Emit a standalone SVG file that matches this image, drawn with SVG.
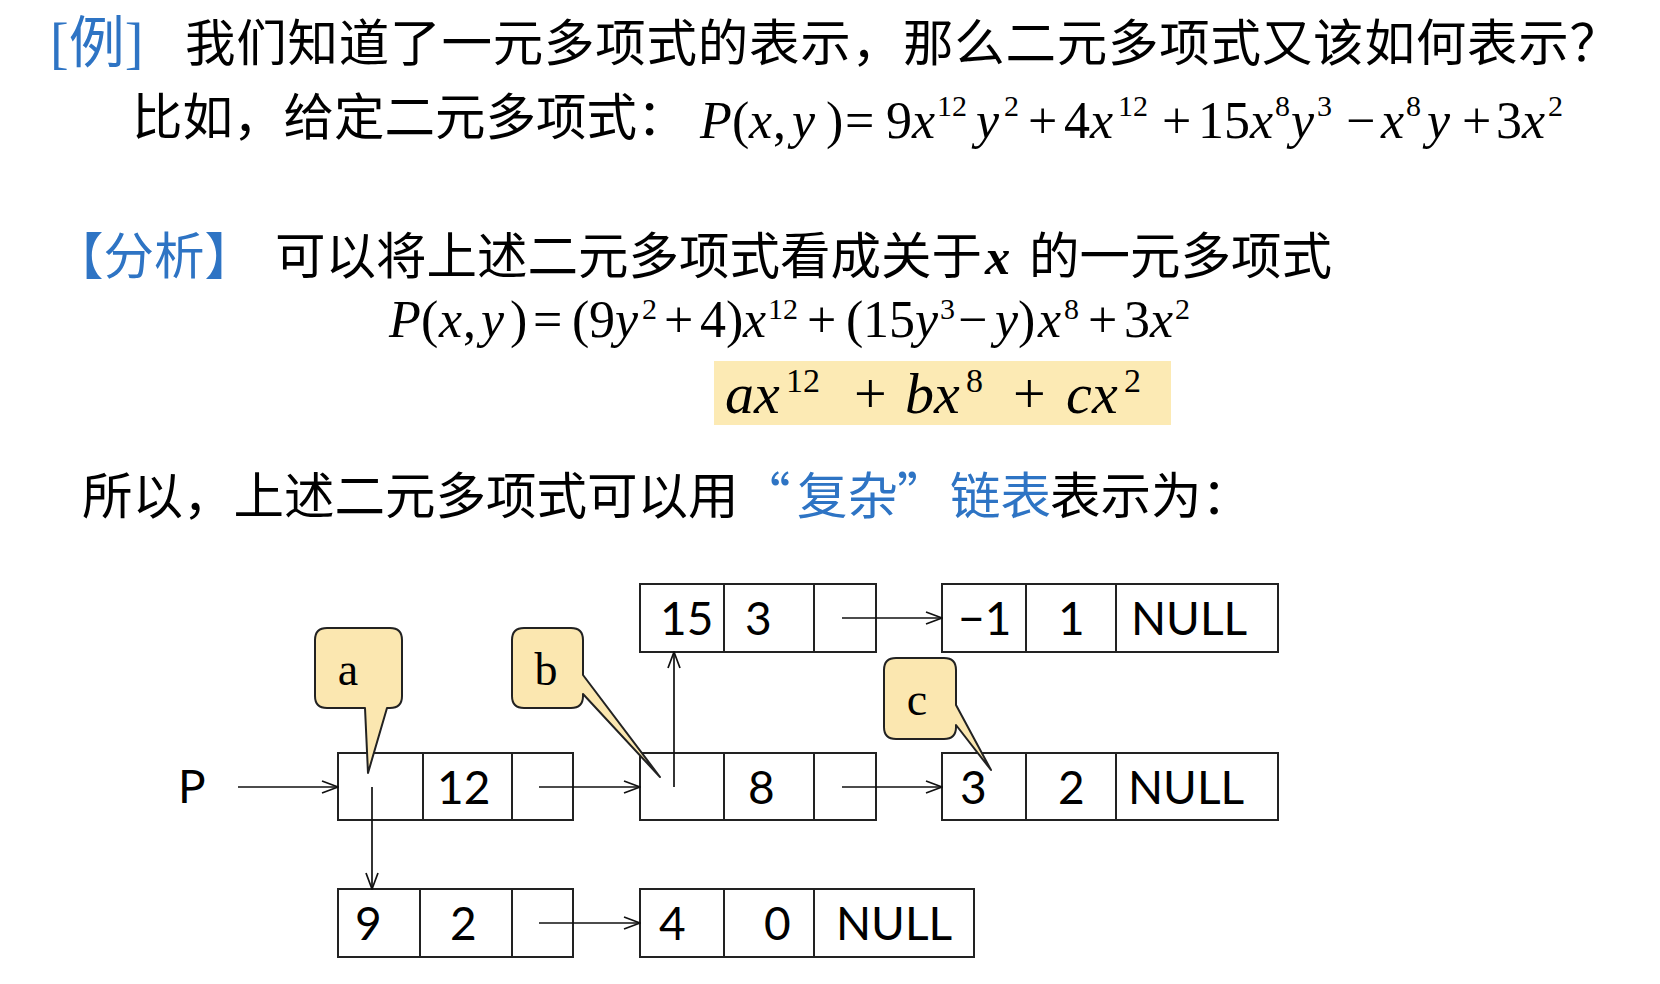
<svg xmlns="http://www.w3.org/2000/svg" width="1660" height="984" viewBox="0 0 1660 984">
<defs>
<style>
.cn{font-family:"Noto Sans CJK SC",sans-serif;font-size:50.5px;fill:#000}
.blue{fill:#2E74C4}
.m{font-family:"Liberation Serif",serif;font-style:italic;font-size:52px;fill:#000}
.up{font-style:normal}
.sup{font-size:30px;font-style:normal}
.hm{font-family:"Liberation Serif",serif;font-style:italic;font-size:58px;fill:#000}
.hsup{font-size:34px;font-style:normal}
.box{fill:#fff;stroke:#222;stroke-width:2}
.div{stroke:#222;stroke-width:2}
.num{font-family:Lato,"Liberation Sans",sans-serif;font-size:46px;fill:#000}
.lnk{stroke:#111;stroke-width:1.7;fill:none;marker-end:url(#ah)}
.call{fill:#FBE7B0;stroke:#222;stroke-width:2;stroke-linejoin:round}
.cl{font-family:"Liberation Serif",serif;font-size:46px;text-anchor:middle;fill:#000}
</style>
<marker id="ah" viewBox="0 0 18 14" refX="17" refY="7" markerWidth="18" markerHeight="14" markerUnits="userSpaceOnUse" orient="auto">
<path d="M1,1 L17,7 L1,13" fill="none" stroke="#111" stroke-width="1.7"/>
</marker>
</defs>
<rect width="1660" height="984" fill="#fff"/>

<g id="title">
<text x="50" y="62" font-family="'Liberation Serif','Noto Sans CJK SC',serif" font-size="56" fill="#2E74C4">[例]</text>
<text class="cn" x="185" y="61" textLength="1435" lengthAdjust="spacing">我们知道了一元多项式的表示，那么二元多项式又该如何表示？</text>
<text class="cn" x="132" y="135">比如，给定二元多项式：</text>
</g>

<g id="formula1">
<text class="m" y="138"><tspan x="700">P</tspan><tspan x="732" class="up">(</tspan><tspan x="749">x</tspan><tspan x="773" class="up">,</tspan><tspan x="792">y</tspan><tspan x="826" class="up">)</tspan><tspan x="845" class="up">=</tspan><tspan x="886" class="up">9</tspan><tspan x="912">x</tspan><tspan x="937" y="116" class="sup">12</tspan><tspan x="976" y="138">y</tspan><tspan x="1004" y="116" class="sup">2</tspan><tspan x="1028" y="138" class="up">+</tspan><tspan x="1064" class="up">4</tspan><tspan x="1090">x</tspan><tspan x="1118" y="116" class="sup">12</tspan><tspan x="1162" y="138" class="up">+</tspan><tspan x="1198" class="up">15</tspan><tspan x="1250">x</tspan><tspan x="1275" y="116" class="sup">8</tspan><tspan x="1291" y="138">y</tspan><tspan x="1317" y="116" class="sup">3</tspan><tspan x="1346" y="138" class="up">−</tspan><tspan x="1381">x</tspan><tspan x="1406" y="116" class="sup">8</tspan><tspan x="1427" y="138">y</tspan><tspan x="1462" class="up">+</tspan><tspan x="1496" class="up">3</tspan><tspan x="1522">x</tspan><tspan x="1548" y="116" class="sup">2</tspan></text>
</g>

<g id="analysis">
<text class="cn blue" x="53" y="274">【分析】</text>
<text class="cn" x="275" y="274">可以将上述二元多项式看成关于<tspan x="985" font-family="'Liberation Serif',serif" font-weight="bold" font-style="italic">x</tspan><tspan x="1029">的一元多项式</tspan></text>
</g>

<g id="formula2">
<text class="m" y="337"><tspan x="389">P</tspan><tspan x="421" class="up">(</tspan><tspan x="439">x</tspan><tspan x="463" class="up">,</tspan><tspan x="481">y</tspan><tspan x="510" class="up">)</tspan><tspan x="533" class="up">=</tspan><tspan x="572" class="up">(</tspan><tspan x="589" class="up">9</tspan><tspan x="615">y</tspan><tspan x="642" y="319" class="sup">2</tspan><tspan x="664" y="337" class="up">+</tspan><tspan x="700" class="up">4</tspan><tspan x="726" class="up">)</tspan><tspan x="743">x</tspan><tspan x="768" y="319" class="sup">12</tspan><tspan x="807" y="337" class="up">+</tspan><tspan x="846" class="up">(</tspan><tspan x="863" class="up">15</tspan><tspan x="915">y</tspan><tspan x="940" y="319" class="sup">3</tspan><tspan x="958" y="337" class="up">−</tspan><tspan x="995">y</tspan><tspan x="1018" class="up">)</tspan><tspan x="1038">x</tspan><tspan x="1064" y="319" class="sup">8</tspan><tspan x="1088" y="337" class="up">+</tspan><tspan x="1124" class="up">3</tspan><tspan x="1150">x</tspan><tspan x="1175" y="319" class="sup">2</tspan></text>
</g>

<g id="highlight">
<rect x="714" y="361" width="457" height="64" fill="#FCEAB4"/>
<text class="hm" y="413"><tspan x="725">a</tspan><tspan x="754">x</tspan><tspan x="786" y="392" class="hsup">12</tspan><tspan x="854" y="413" class="up">+</tspan><tspan x="905">b</tspan><tspan x="934">x</tspan><tspan x="966" y="392" class="hsup">8</tspan><tspan x="1013" y="413" class="up">+</tspan><tspan x="1066">c</tspan><tspan x="1092">x</tspan><tspan x="1124" y="392" class="hsup">2</tspan></text>
</g>

<g id="conclusion">
<text class="cn" x="82" y="514">所以，上述二元多项式可以用<tspan class="blue" x="740">“</tspan><tspan class="blue" x="797">复杂</tspan><tspan class="blue" x="897">”</tspan><tspan class="blue" x="950">链表</tspan><tspan x="1050">表示为：</tspan></text>
</g>

<g id="P">
<text class="num" x="178" y="803">P</text>
</g>

<g id="n15">
<rect class="box" x="640" y="584" width="236" height="68"/>
<line class="div" x1="724" y1="584" x2="724" y2="652"/>
<line class="div" x1="814" y1="584" x2="814" y2="652"/>
<text class="num" x="660" y="635">15</text>
<text class="num" x="745" y="635">3</text>
</g>

<g id="nm1">
<rect class="box" x="942" y="584" width="336" height="68"/>
<line class="div" x1="1026" y1="584" x2="1026" y2="652"/>
<line class="div" x1="1116" y1="584" x2="1116" y2="652"/>
<text class="num" x="958" y="635">−1</text>
<text class="num" x="1058" y="635">1</text>
<text class="num" x="1131" y="635">NULL</text>
</g>

<g id="na">
<rect class="box" x="338" y="753" width="235" height="67"/>
<line class="div" x1="423" y1="753" x2="423" y2="820"/>
<line class="div" x1="512" y1="753" x2="512" y2="820"/>
<text class="num" x="437" y="804">12</text>
</g>

<g id="nb">
<rect class="box" x="640" y="753" width="236" height="67"/>
<line class="div" x1="724" y1="753" x2="724" y2="820"/>
<line class="div" x1="814" y1="753" x2="814" y2="820"/>
<text class="num" x="748" y="804">8</text>
</g>

<g id="nc">
<rect class="box" x="942" y="753" width="336" height="67"/>
<line class="div" x1="1026" y1="753" x2="1026" y2="820"/>
<line class="div" x1="1116" y1="753" x2="1116" y2="820"/>
<text class="num" x="960" y="804">3</text>
<text class="num" x="1058" y="804">2</text>
<text class="num" x="1128" y="804">NULL</text>
</g>

<g id="n9">
<rect class="box" x="338" y="889" width="235" height="68"/>
<line class="div" x1="420" y1="889" x2="420" y2="957"/>
<line class="div" x1="512" y1="889" x2="512" y2="957"/>
<text class="num" x="355" y="940">9</text>
<text class="num" x="450" y="940">2</text>
</g>

<g id="n4">
<rect class="box" x="640" y="889" width="334" height="68"/>
<line class="div" x1="724" y1="889" x2="724" y2="957"/>
<line class="div" x1="814" y1="889" x2="814" y2="957"/>
<text class="num" x="659" y="940">4</text>
<text class="num" x="764" y="940">0</text>
<text class="num" x="836" y="940">NULL</text>
</g>

<g id="connectors">
<path class="lnk" d="M238,787 H338"/>
<path class="lnk" d="M539,787 H640"/>
<path class="lnk" d="M842,787 H942"/>
<path class="lnk" d="M842,618 H942"/>
<path class="lnk" d="M539,923 H640"/>
<path class="lnk" d="M372,787 V889"/>
<path class="lnk" d="M674,787 V652"/>
</g>

<g id="callout-a">
<path class="call" d="M327,628 H390 Q402,628 402,640 V696 Q402,708 390,708 H387 L368,773 L365,708 H327 Q315,708 315,696 V640 Q315,628 327,628 Z"/>
<text class="cl" x="348" y="685">a</text>
</g>
<g id="callout-b">
<path class="call" d="M524,628 H571 Q583,628 583,640 V675 L660,777 L583,694 V696 Q583,708 571,708 H524 Q512,708 512,696 V640 Q512,628 524,628 Z"/>
<text class="cl" x="546" y="685">b</text>
</g>
<g id="callout-c">
<path class="call" d="M896,658 H944 Q956,658 956,670 V705 L991,770 L956,725 V727 Q956,739 944,739 H896 Q884,739 884,727 V670 Q884,658 896,658 Z"/>
<text class="cl" x="917" y="715">c</text>
</g>
</svg>
